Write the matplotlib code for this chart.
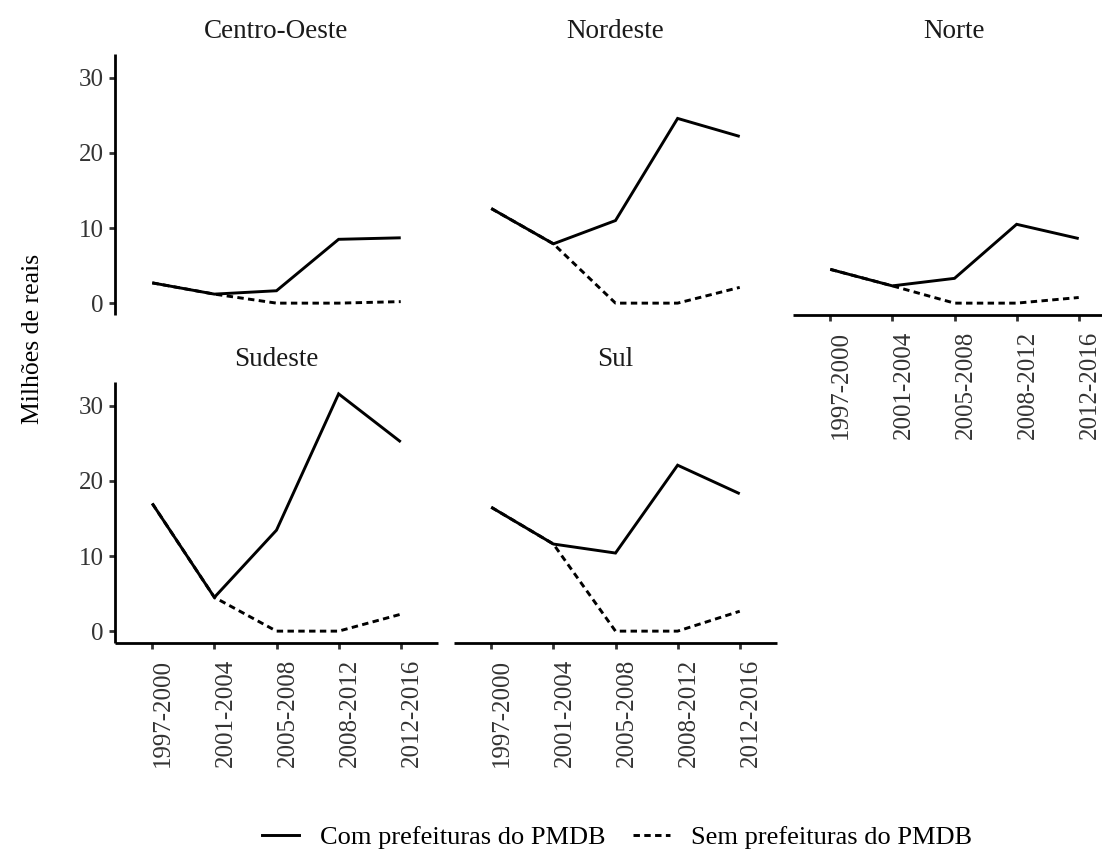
import matplotlib
matplotlib.use("Agg")
import matplotlib.pyplot as plt
from matplotlib.lines import Line2D
import numpy as np

periods = ["1997-2000", "2001-2004", "2005-2008", "2008-2012", "2012-2016"]
regions = ["Centro-Oeste", "Nordeste", "Norte", "Sudeste", "Sul"]
series_labels = ["Com prefeituras do PMDB", "Sem prefeituras do PMDB"]

com_centro_oeste = [2.7, 1.2, 1.65, 8.5, 8.7]
sem_centro_oeste = [2.7, 1.2, 0.0, 0.0, 0.2]
com_nordeste = [12.6, 7.9, 11.0, 24.6, 22.2]
sem_nordeste = [12.6, 7.9, 0.0, 0.0, 2.1]
com_norte = [4.5, 2.3, 3.3, 10.5, 8.6]
sem_norte = [4.5, 2.3, 0.0, 0.0, 0.75]
com_sudeste = [17.0, 4.5, 13.45, 31.6, 25.2]
sem_sudeste = [17.0, 4.5, 0.0, 0.0, 2.25]
com_sul = [16.5, 11.6, 10.4, 22.1, 18.3]
sem_sul = [16.5, 11.6, 0.0, 0.0, 2.65]

com = {"Centro-Oeste": com_centro_oeste, "Nordeste": com_nordeste, "Norte": com_norte,
       "Sudeste": com_sudeste, "Sul": com_sul}
sem = {"Centro-Oeste": sem_centro_oeste, "Nordeste": sem_nordeste, "Norte": sem_norte,
       "Sudeste": sem_sudeste, "Sul": sem_sul}

FONT = "Liberation Serif"
plt.rcParams["font.family"] = FONT

W, H = 1102, 852
fig = plt.figure(figsize=(W / 100, H / 100), dpi=100)

def px_axes(left, top, right, bottom):
    return fig.add_axes([left / W, 1 - bottom / H, (right - left) / W, (bottom - top) / H])

allvals = np.concatenate([np.array(v) for v in list(com.values()) + list(sem.values())])
ymin, ymax = 0.0, allvals.max()
rng = ymax - ymin
ylim = (ymin - 0.05 * rng, ymax + 0.05 * rng)

pw = 323
lefts = [115, 454, 793]
rows = [(54, 315), (382, 643)]
layout = {
    "Centro-Oeste": (0, 0, True, False),
    "Nordeste": (0, 1, False, False),
    "Norte": (0, 2, False, True),
    "Sudeste": (1, 0, True, True),
    "Sul": (1, 1, False, True),
}

LW = 2.1
SPW = 2.0
DASH = (2.2, 1.5)
x = np.arange(len(periods))
for reg in regions:
    r, c, show_y, show_x = layout[reg]
    top, bot = rows[r]
    ax = px_axes(lefts[c], top, lefts[c] + pw, bot)
    ax.plot(x, com[reg], color="black", lw=LW, solid_capstyle="butt", solid_joinstyle="miter")
    ax.plot(x, sem[reg], color="black", lw=LW, dashes=DASH, dash_capstyle="butt")
    ax.set_xlim(-0.6, len(periods) - 1 + 0.6)
    ax.set_ylim(*ylim)
    for s in ["top", "right"]:
        ax.spines[s].set_visible(False)
    ax.spines["left"].set_visible(show_y)
    ax.spines["bottom"].set_visible(show_x)
    for s in ["left", "bottom"]:
        ax.spines[s].set_linewidth(SPW)
        ax.spines[s].set_color("black")
        ax.spines[s].set_capstyle("butt")
    ax.set_yticks([0, 10, 20, 30])
    ax.set_xticks(x)
    if show_y:
        ax.set_yticklabels(["0", "10", "20", "30"], fontsize=18, color="#333333")
        ax.tick_params(axis="y", length=4.3, width=SPW, color="#333333", pad=4)
    else:
        ax.tick_params(axis="y", left=False, labelleft=False)
    if show_x:
        ax.set_xticklabels(periods, rotation=90, fontsize=18, color="#333333", ha="left", va="top")
        ax.tick_params(axis="x", length=4.3, width=SPW, color="#333333", pad=7)
    else:
        ax.tick_params(axis="x", bottom=False, labelbottom=False)
    ax.patch.set_alpha(0)
    ax.annotate(reg, xy=(0.5, 1.0), xycoords="axes fraction", xytext=(0, 11.5),
                textcoords="offset points", ha="center", va="baseline",
                fontsize=19.5, color="#1A1A1A")

fig.text(33 / W, 1 - 339 / H, "Milhões de reais", rotation=90, ha="center", va="center",
         fontsize=18.5, color="black")

handles = [Line2D([], [], color="black", lw=LW),
           Line2D([], [], color="black", lw=LW, dashes=DASH)]
fig.legend(handles, series_labels, loc="center", bbox_to_anchor=(0.560, 1 - 837 / H),
           ncol=2, frameon=False, fontsize=19, handlelength=1.4, handletextpad=0.8,
           columnspacing=1.06, borderpad=0, borderaxespad=0)

fig.savefig("out.png", dpi=100)
